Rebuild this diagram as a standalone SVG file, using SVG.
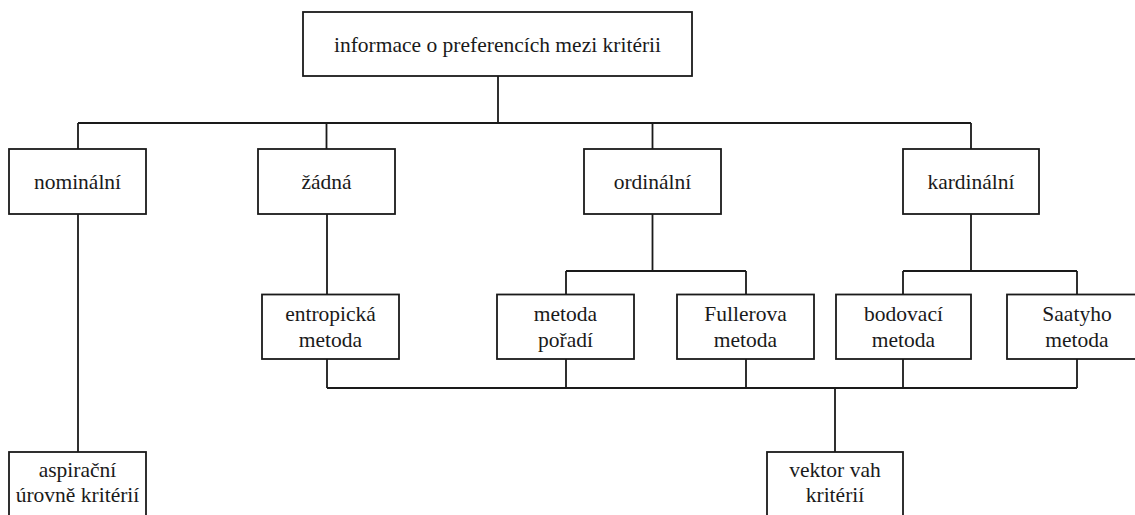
<svg xmlns="http://www.w3.org/2000/svg" width="1135" height="515" viewBox="0 0 1135 515">
<style>
.box{fill:#fff;stroke:#1a1a1a;stroke-width:1.8}
.t{font-family:"Liberation Serif","Times New Roman",serif;font-size:21.5px;fill:#1a1a1a;text-anchor:middle}
.c{fill:none;stroke:#1a1a1a;stroke-width:1.8}
</style>
<rect width="1135" height="515" fill="#fff"/>
<g id="connectors">
<path class="c" d="M498 76V123M78 123H971M78 123V149M326.5 123V149M652.5 123V149M971 123V149"/>
<path class="c" d="M78 214V452M327 214V294.5"/>
<path class="c" d="M652.5 214V271M566 271H746M566 271V294.5M746 271V294.5"/>
<path class="c" d="M971 214V271M903 271H1077M903 271V294.5M1077 271V294.5"/>
<path class="c" d="M327 359V388M566 359V388M746 359V388M903 359V388M1077 359V388M327 388H1077M835 388V452"/>
</g>
<g id="n-top"><rect class="box" x="303" y="12" width="389" height="64"/><text class="t" x="497.5" y="52">informace o preferencích mezi kritérii</text></g>
<g id="n-nominalni"><rect class="box" x="9" y="149" width="137" height="65"/><text class="t" x="77.5" y="189">nominální</text></g>
<g id="n-zadna"><rect class="box" x="258" y="149" width="137" height="65"/><text class="t" x="326.5" y="189">žádná</text></g>
<g id="n-ordinalni"><rect class="box" x="584" y="149" width="137" height="65"/><text class="t" x="652.5" y="189">ordinální</text></g>
<g id="n-kardinalni"><rect class="box" x="903" y="149" width="136" height="65"/><text class="t" x="971" y="189">kardinální</text></g>
<g id="n-entropicka"><rect class="box" x="262" y="294.5" width="137" height="64.5"/><text class="t" x="330.5" y="321">entropická</text><text class="t" x="330.5" y="347">metoda</text></g>
<g id="n-poradi"><rect class="box" x="497" y="294.5" width="137" height="64.5"/><text class="t" x="565.5" y="321">metoda</text><text class="t" x="565.5" y="347">pořadí</text></g>
<g id="n-fuller"><rect class="box" x="677" y="294.5" width="137" height="64.5"/><text class="t" x="745.5" y="321">Fullerova</text><text class="t" x="745.5" y="347">metoda</text></g>
<g id="n-bodovaci"><rect class="box" x="836" y="294.5" width="135" height="64.5"/><text class="t" x="903.5" y="321">bodovací</text><text class="t" x="903.5" y="347">metoda</text></g>
<g id="n-saaty"><rect class="box" x="1007" y="294.5" width="140" height="64.5"/><text class="t" x="1077" y="321">Saatyho</text><text class="t" x="1077" y="347">metoda</text></g>
<g id="n-aspiracni"><rect class="box" x="9" y="452" width="137" height="75"/><text class="t" x="77.5" y="477">aspirační</text><text class="t" x="77.5" y="502">úrovně kritérií</text></g>
<g id="n-vektor"><rect class="box" x="767" y="452" width="136" height="75"/><text class="t" x="835" y="477">vektor vah</text><text class="t" x="835" y="502">kritérií</text></g>
</svg>
